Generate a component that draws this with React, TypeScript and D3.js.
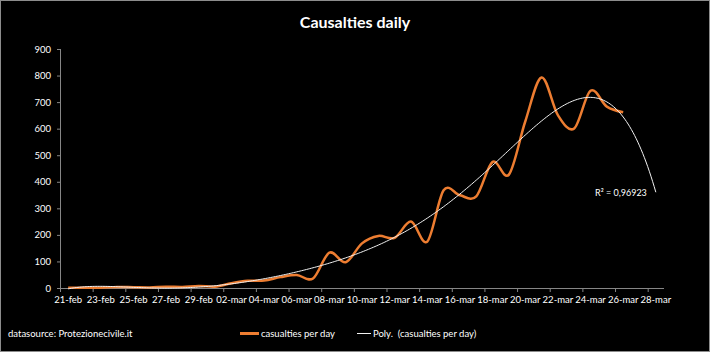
import { useMemo } from "react";
import * as d3 from "d3";

const width = 710;
const height = 352;
const margin = { top: 49, right: 46, bottom: 64, left: 60 };

// categories on the x axis (21-feb .. 28-mar)
const categories = [
  "21-feb", "22-feb", "23-feb", "24-feb", "25-feb", "26-feb", "27-feb", "28-feb", "29-feb",
  "01-mar", "02-mar", "03-mar", "04-mar", "05-mar", "06-mar", "07-mar", "08-mar", "09-mar",
  "10-mar", "11-mar", "12-mar", "13-mar", "14-mar", "15-mar", "16-mar", "17-mar", "18-mar",
  "19-mar", "20-mar", "21-mar", "22-mar", "23-mar", "24-mar", "25-mar", "26-mar", "27-mar",
  "28-mar",
];

// deaths per day, 21-feb .. 26-mar
const casualties = [
  1, 1, 1, 4, 3, 2, 5, 4, 8, 5, 18, 27, 28, 41, 49, 36, 133, 97, 168, 196, 189, 250, 175,
  368, 349, 345, 475, 427, 627, 793, 651, 601, 743, 683, 662,
];

const yTicks = [0, 100, 200, 300, 400, 500, 600, 700, 800, 900];

// order 6 gives the R² of the original (0,96923)
const trendOrder = 6;

// least squares polynomial (like excel's poly trendline), x = 1..n
const polyfit = (ys: number[], deg: number) => {
  const n = ys.length;
  const xs = ys.map((_, i) => (i + 1) / n);
  const m = deg + 1;
  const A = d3.range(m).map(() => new Array(m + 1).fill(0));
  xs.forEach((x, k) => {
    for (let r = 0; r < m; r++) {
      for (let c = 0; c < m; c++) A[r][c] += Math.pow(x, r + c);
      A[r][m] += Math.pow(x, r) * ys[k];
    }
  });
  for (let p = 0; p < m; p++) {
    let best = p;
    for (let r = p + 1; r < m; r++) if (Math.abs(A[r][p]) > Math.abs(A[best][p])) best = r;
    [A[p], A[best]] = [A[best], A[p]];
    for (let r = 0; r < m; r++) {
      if (r === p) continue;
      const f = A[r][p] / A[p][p];
      for (let c = p; c <= m; c++) A[r][c] -= f * A[p][c];
    }
  }
  const coef = A.map((row, i) => row[m] / row[i]);
  return (i: number) => {
    const x = (i + 1) / n;
    return coef.reduce((s, c, j) => s + c * Math.pow(x, j), 0);
  };
};

const font = "Lato, 'Open Sans', sans-serif";

const App = () => {
  const chart = useMemo(() => {
    const x = d3
      .scaleBand()
      .domain(categories)
      .range([margin.left, width - margin.right]);
    const y = d3
      .scaleLinear()
      .domain([0, 900])
      .range([height - margin.bottom, margin.top]);
    const cx = (i: number) => (x(categories[0]) as number) + x.bandwidth() * (i + 0.5);

    const line = d3
      .line<number>()
      .x((_, i) => cx(i))
      .y((d) => y(d))
      .curve(d3.curveCardinal.tension(0));

    const trend = polyfit(casualties, trendOrder);
    const trendPts = d3.range(0, categories.length - 1 + 0.001, 0.1);
    const trendLine = d3
      .line<number>()
      .x((t) => cx(t))
      .y((t) => y(trend(t)));

    return {
      x,
      y,
      cx,
      casualtyPath: line(casualties) as string,
      trendPath: trendLine(trendPts) as string,
    };
  }, []);

  const { x, y, cx } = chart;
  const axisColor = "#868686";
  const x0 = margin.left;
  const x1 = width - margin.right;
  const yBase = y(0);

  if (typeof document !== "undefined") document.body.style.margin = "0";

  return (
    <svg width={width} height={height} style={{ display: "block", fontFamily: font }}>
      <rect x={0.5} y={0.5} width={width - 1} height={height - 1} fill="#000" stroke="#8c8c8c" />
      <text x={355} y={28} textAnchor="middle" fill="#fff" fontSize={16} fontWeight="bold">
        Causalties daily
      </text>

      {/* y axis */}
      <line x1={x0 + 0.5} x2={x0 + 0.5} y1={y(900)} y2={yBase} stroke={axisColor} />
      {yTicks.map((t) => (
        <g key={t}>
          <line x1={x0 - 3} x2={x0} y1={y(t) + 0.5} y2={y(t) + 0.5} stroke={axisColor} />
          <text x={x0 - 9} y={y(t) + 3.5} textAnchor="end" fill="#fff" fontSize={9.5}>
            {t}
          </text>
        </g>
      ))}

      {/* x axis */}
      <line x1={x0} x2={x1} y1={yBase + 0.5} y2={yBase + 0.5} stroke={axisColor} />
      {categories.map((c, i) =>
        i % 2 === 0 ? (
          <g key={c}>
            <line
              x1={(x(c) as number) + 0.5}
              x2={(x(c) as number) + 0.5}
              y1={yBase}
              y2={yBase + 4}
              stroke={axisColor}
            />
            <text x={cx(i)} y={yBase + 15} textAnchor="middle" fill="#fff" fontSize={9.5}>
              {c}
            </text>
          </g>
        ) : null
      )}

      <path d={chart.casualtyPath} fill="none" stroke="#ed7d31" strokeWidth={2.5} />
      <path d={chart.trendPath} fill="none" stroke="#f2f2f2" strokeWidth={1} />

      <text x={595} y={196} fill="#fff" fontSize={9}>
        R² = 0,96923
      </text>

      {/* legend */}
      <text x={8} y={337} fill="#fff" fontSize={9.5}>
        datasource: Protezionecivile.it
      </text>
      <line x1={240} x2={259} y1={333.5} y2={333.5} stroke="#ed7d31" strokeWidth={3} />
      <text x={261} y={337} fill="#fff" fontSize={9.5}>
        casualties per day
      </text>
      <line x1={357} x2={371} y1={333.5} y2={333.5} stroke="#f2f2f2" strokeWidth={1} />
      <text x={373} y={337} fill="#fff" fontSize={9.5}>
        {"Poly.\u00a0 (casualties per day)"}
      </text>
    </svg>
  );
};

export default App;
